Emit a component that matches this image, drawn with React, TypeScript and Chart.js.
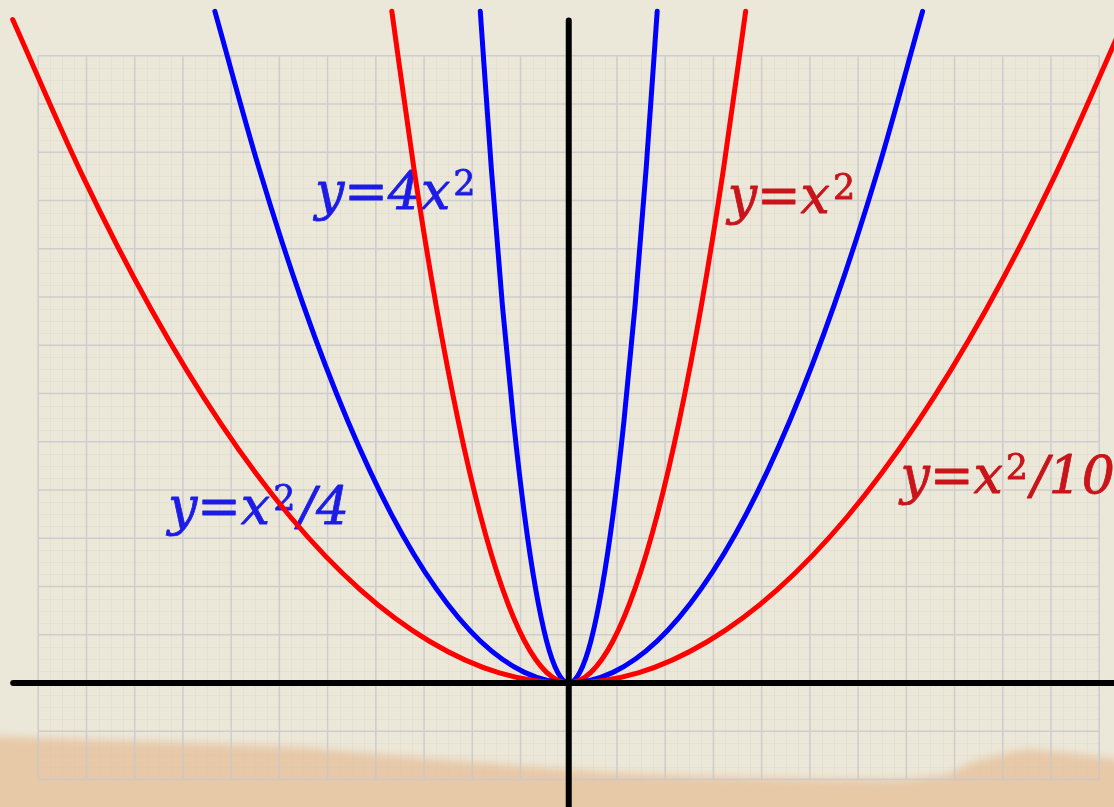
import React, { useEffect, useRef } from "react";
import { Chart, registerables } from "chart.js";

Chart.register(...registerables);

// Sample points (grid units: one grid square = 1)
const xs4x2 = [-1.834, -1.605, -1.376, -1.146, -0.917, -0.688, -0.459, -0.229, 0, 0.229, 0.459, 0.688, 0.917, 1.146, 1.376, 1.605, 1.834];
const ys4x2 = [13.92, 10.66, 7.83, 5.44, 3.48, 1.96, 0.87, 0.22, 0, 0.22, 0.87, 1.96, 3.48, 5.44, 7.83, 10.66, 13.92];

const xsX2 = [-3.668, -3.21, -2.751, -2.293, -1.834, -1.376, -0.917, -0.459, 0, 0.459, 0.917, 1.376, 1.834, 2.293, 2.751, 3.21, 3.668];
const ysX2 = [13.92, 10.66, 7.83, 5.44, 3.48, 1.96, 0.87, 0.22, 0, 0.22, 0.87, 1.96, 3.48, 5.44, 7.83, 10.66, 13.92];

const xsX2d4 = [-7.337, -6.42, -5.503, -4.586, -3.669, -2.751, -1.834, -0.917, 0, 0.917, 1.834, 2.751, 3.669, 4.586, 5.503, 6.42, 7.337];
const ysX2d4 = [13.92, 10.66, 7.83, 5.44, 3.48, 1.96, 0.87, 0.22, 0, 0.22, 0.87, 1.96, 3.48, 5.44, 7.83, 10.66, 13.92];

const xsX2d10 = [-11.53, -10.09, -8.65, -7.21, -5.77, -4.32, -2.88, -1.44, 0, 1.44, 2.88, 4.32, 5.77, 7.21, 8.65, 10.09, 11.53];
const ysX2d10 = [13.75, 10.53, 7.73, 5.37, 3.44, 1.93, 0.86, 0.21, 0, 0.21, 0.86, 1.93, 3.44, 5.37, 7.73, 10.53, 13.75];

// Axes segments
const xAxisXs = [-11.52, 11.6];
const yAxisYs = [13.73, -2.8];

// Curve labels (text, anchor x, anchor baseline y in data units)
const labelTexts = ["y=4x²", "y=x²", "y=x²/4", "y=x²/10"];
const labelXs = [-5.264, 3.295, -8.311, 6.881];
const labelYs = [9.824, 9.741, 3.295, 3.938];
const labelColors = ["#1c1ce6", "#c8141a", "#1c1ce6", "#c8141a"];

// Grid extents (grid units)
const gridXMin = -11;
const gridXMax = 11;
const gridYMin = -2;
const gridYMax = 13;

const toPts = (xs: number[], ys: number[]) => xs.map((x, i) => ({ x, y: ys[i] }));

const paperPlugin = {
  id: "paper",
  beforeDraw(chart: any) {
    const { ctx, chartArea: a, scales } = chart;
    const sx = scales.x;
    const sy = scales.y;
    ctx.save();
    ctx.fillStyle = "#ece8d9";
    ctx.fillRect(a.left, a.top, a.right - a.left, a.bottom - a.top);

    // stain along the bottom
    const W = a.right - a.left;
    const H = a.bottom - a.top;
    const prof = [
      [0, 0.912], [0.09, 0.917], [0.18, 0.921], [0.27, 0.926], [0.36, 0.937],
      [0.45, 0.947], [0.54, 0.957], [0.63, 0.962], [0.72, 0.965], [0.81, 0.966],
      [0.85, 0.96], [0.875, 0.943], [0.92, 0.928], [0.96, 0.933], [1.0, 0.942],
    ];
    ctx.filter = "blur(4px)";
    ctx.fillStyle = "#e7c8a7";
    ctx.beginPath();
    ctx.moveTo(a.left - 10, a.bottom + 10);
    prof.forEach(([fx, fy], i) => {
      const px = a.left + fx * W + (i === 0 ? -10 : i === prof.length - 1 ? 10 : 0);
      ctx.lineTo(px, a.top + fy * H);
    });
    ctx.lineTo(a.right + 10, a.bottom + 10);
    ctx.closePath();
    ctx.fill();
    ctx.filter = "none";

    // fine texture lines
    ctx.strokeStyle = "rgba(205,200,186,0.2)";
    ctx.lineWidth = 1;
    ctx.beginPath();
    for (let v = gridXMin * 4; v <= gridXMax * 4; v++) {
      if (v % 4 === 0) continue;
      const px = Math.round(sx.getPixelForValue(v / 4)) + 0.5;
      ctx.moveTo(px, sy.getPixelForValue(gridYMax));
      ctx.lineTo(px, sy.getPixelForValue(gridYMin));
    }
    for (let v = gridYMin * 4; v <= gridYMax * 4; v++) {
      if (v % 4 === 0) continue;
      const py = Math.round(sy.getPixelForValue(v / 4)) + 0.5;
      ctx.moveTo(sx.getPixelForValue(gridXMin), py);
      ctx.lineTo(sx.getPixelForValue(gridXMax), py);
    }
    ctx.stroke();

    // major grid
    ctx.strokeStyle = "rgba(200,200,202,0.85)";
    ctx.lineWidth = 1.5;
    ctx.beginPath();
    for (let v = gridXMin; v <= gridXMax; v++) {
      const px = sx.getPixelForValue(v);
      ctx.moveTo(px, sy.getPixelForValue(gridYMax));
      ctx.lineTo(px, sy.getPixelForValue(gridYMin));
    }
    for (let v = gridYMin; v <= gridYMax; v++) {
      const py = sy.getPixelForValue(v);
      ctx.moveTo(sx.getPixelForValue(gridXMin), py);
      ctx.lineTo(sx.getPixelForValue(gridXMax), py);
    }
    ctx.stroke();
    ctx.restore();
  },
};

const BASE_FONT = 'italic 52px "DejaVu Serif"';
const SUP_FONT = '35px "DejaVu Serif"';

const labelPlugin = {
  id: "curveLabels",
  beforeDatasetsDraw(chart: any) {
    const { ctx, scales } = chart;
    ctx.save();
    ctx.textAlign = "left";
    ctx.textBaseline = "alphabetic";
    ctx.lineJoin = "round";
    labelTexts.forEach((t, i) => {
      let px = scales.x.getPixelForValue(labelXs[i]);
      const py = scales.y.getPixelForValue(labelYs[i]);
      ctx.fillStyle = labelColors[i];
      ctx.strokeStyle = labelColors[i];
      ctx.lineWidth = 0.8;
      const parts = t.split("²");
      parts.forEach((p, j) => {
        if (p) {
          ctx.font = BASE_FONT;
          ctx.fillText(p, px, py);
          ctx.strokeText(p, px, py);
          px += ctx.measureText(p).width;
        }
        if (j < parts.length - 1) {
          ctx.font = SUP_FONT;
          const sx = px + 3;
          ctx.fillText("2", sx, py - 14);
          ctx.strokeText("2", sx, py - 14);
          px = sx + ctx.measureText("2").width + 3;
        }
      });
    });
    ctx.restore();
  },
};

export default function App() {
  const ref = useRef<HTMLCanvasElement>(null);

  useEffect(() => {
    document.body.style.margin = "0";
    const curve = (pts: any, color: string) => ({
      data: pts,
      borderColor: color,
      borderWidth: 5,
      borderCapStyle: "round" as const,
      pointRadius: 0,
      cubicInterpolationMode: "monotone" as const,
      fill: false,
      order: 1,
    });
    const axis = (pts: any) => ({
      data: pts,
      borderColor: "#000000",
      borderWidth: 6,
      borderCapStyle: "round" as const,
      pointRadius: 0,
      tension: 0,
      fill: false,
      order: 0,
    });
    const chart = new Chart(ref.current as HTMLCanvasElement, {
      type: "line",
      data: {
        datasets: [
          curve(toPts(xsX2d10, ysX2d10), "#ff0000"),
          curve(toPts(xsX2d4, ysX2d4), "#0000ff"),
          curve(toPts(xsX2, ysX2), "#ff0000"),
          curve(toPts(xs4x2, ys4x2), "#0000ff"),
          axis(xAxisXs.map((x) => ({ x, y: 0 }))),
          axis(yAxisYs.map((y) => ({ x: 0, y }))),
        ] as any,
      },
      options: {
        animation: false,
        responsive: false,
        maintainAspectRatio: false,
        devicePixelRatio: 1,
        layout: { padding: 0 },
        parsing: false as any,
        plugins: {
          legend: { display: false },
          tooltip: { enabled: false },
        },
        events: [],
        scales: {
          x: { type: "linear", min: -11.793, max: 11.306, display: false },
          y: { type: "linear", min: -2.57, max: 14.155, display: false },
        },
      },
      plugins: [paperPlugin, labelPlugin],
    });
    return () => chart.destroy();
  }, []);

  return (
    <div style={{ position: "absolute", left: 0, top: 0, width: 1114, height: 807 }}>
      <canvas ref={ref} width={1114} height={807} style={{ display: "block", width: 1114, height: 807 }} />
    </div>
  );
}
